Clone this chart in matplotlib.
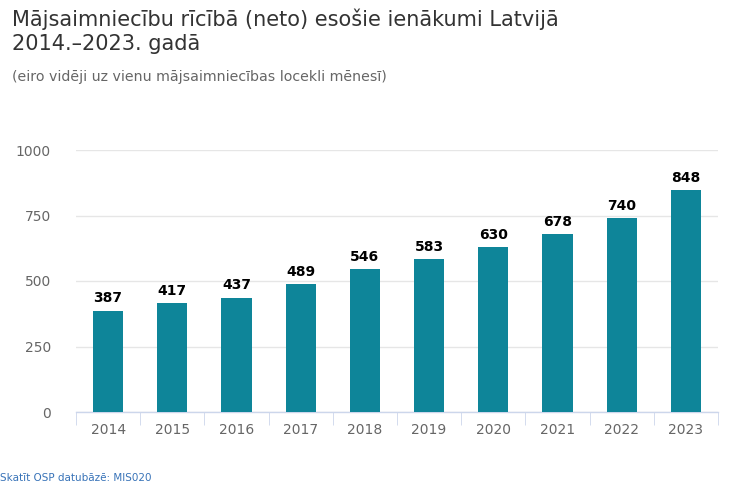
import matplotlib
matplotlib.use("Agg")
import matplotlib.pyplot as plt
import numpy as np

years = ["2014", "2015", "2016", "2017", "2018", "2019", "2020", "2021", "2022", "2023"]
income = [387, 417, 437, 489, 546, 583, 630, 678, 740, 848]
y_ticks = [0, 250, 500, 750, 1000]

BAR = "#0e8599"
GRID = "#e6e6e6"
AXIS = "#ccd6eb"
TICK_TXT = "#666666"

plt.rcParams["font.family"] = ["DejaVu Sans"]

fig = plt.figure(figsize=(7.30, 4.87), dpi=100)
fig.patch.set_facecolor("white")
ax = fig.add_axes([76 / 730, 1 - 412 / 487, 642 / 730, 262 / 487])

x = np.arange(len(years))
ax.bar(x, income, width=0.47, color=BAR, zorder=3)
for xi, v in zip(x, income):
    ax.text(xi, v + 20, str(v), ha="center", va="bottom", fontsize=10,
            fontweight="bold", color="#000000", zorder=4)

ax.set_xlim(-0.5, len(years) - 0.5)
ax.set_ylim(0, 1000)
ax.set_yticks(y_ticks)
ax.set_yticklabels([str(t) for t in y_ticks], fontsize=10, color=TICK_TXT)
ax.yaxis.grid(True, color=GRID, linewidth=1, zorder=0)
ax.tick_params(axis="y", length=0, pad=18)

ax.set_xticks(x)
ax.set_xticklabels(years, fontsize=10, color=TICK_TXT)
ax.tick_params(axis="x", length=0, pad=8)
ax.set_xticks(np.arange(-0.5, len(years)), minor=True)
ax.tick_params(axis="x", which="minor", length=9, color=AXIS, direction="out")

for s in ["top", "right", "left"]:
    ax.spines[s].set_visible(False)
ax.spines["bottom"].set_color(AXIS)
ax.spines["bottom"].set_linewidth(1)
ax.set_axisbelow(True)

fig.text(12 / 730, 1 - 9 / 487, "Mājsaimniecību rīcībā (neto) esošie ienākumi Latvijā\n2014.–2023. gadā",
         fontsize=15, color="#333333", ha="left", va="top", linespacing=1.2)
fig.text(12 / 730, 1 - 81 / 487, "(eiro vidēji uz vienu mājsaimniecības locekli mēnesī)",
         fontsize=10.2, color="#666666", ha="left", va="baseline")
fig.text(0, 1 - 481 / 487, "Skatīt OSP datubāzē: MIS020",
         fontsize=7.5, color="#3873b8", ha="left", va="baseline")

fig.savefig("out.png", dpi=100, facecolor="white")
